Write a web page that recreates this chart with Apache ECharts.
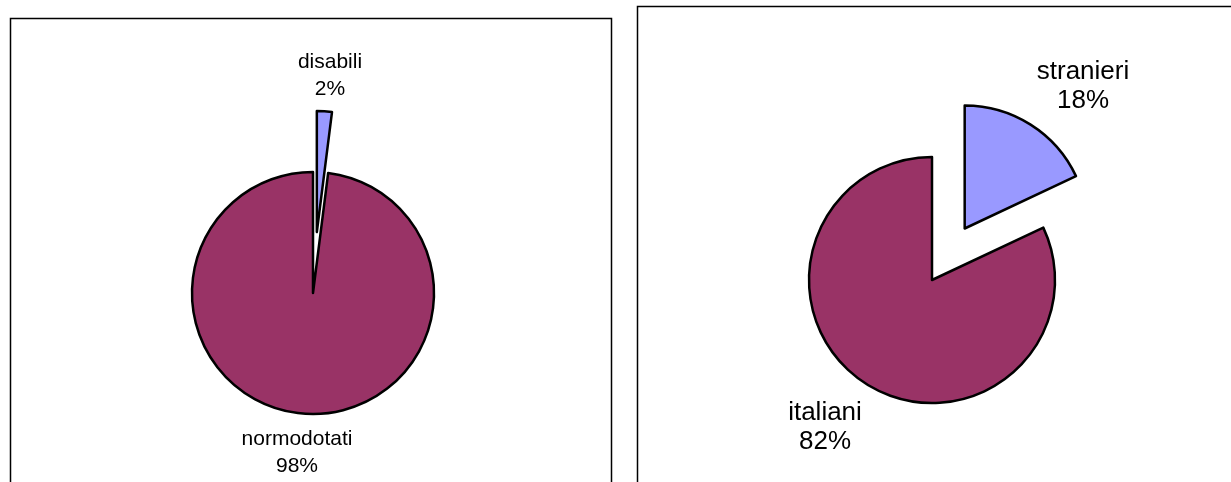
<!DOCTYPE html>
<html>
<head>
<meta charset="utf-8">
<script src="https://cdn.jsdelivr.net/npm/echarts@6/dist/echarts.min.js"></script>
<style>
html,body{margin:0;padding:0;background:#fff;}
#c{width:1231px;height:482px;}
</style>
</head>
<body>
<div id="c"></div>
<script>
// Data
const leftCategories = ['disabili', 'normodotati'];
const leftValues = [2, 98];
const rightCategories = ['stranieri', 'italiani'];
const rightValues = [18, 82];
const sliceColors = ['#9999FF', '#993366'];

const chart = echarts.init(document.getElementById('c'), null, {renderer: 'canvas'});

function buildData(cats, vals) {
  return cats.map((c, i) => ({
    name: c,
    value: vals[i],
    selected: i === 0,
    itemStyle: {color: sliceColors[i]}
  }));
}

// label centre positions (layout only)
const leftLabelPos = [[330, 76], [297, 453]];
const rightLabelPos = [[1083, 86], [825, 427]];

function labelTexts(cats, vals, pos, fontSize, lineHeight) {
  const sum = vals.reduce((a, b) => a + b, 0);
  return cats.map((c, i) => ({
    type: 'text',
    x: pos[i][0],
    y: pos[i][1],
    z: 10,
    style: {
      text: c + '\n' + Math.round(vals[i] / sum * 100) + '%',
      fontFamily: 'Liberation Sans, Arial, sans-serif',
      fontSize: fontSize,
      lineHeight: lineHeight,
      fill: '#000',
      align: 'center',
      verticalAlign: 'middle'
    }
  }));
}

function pieSeries(cats, vals, center, radius) {
  return {
    type: 'pie',
    center: center,
    radius: radius,
    startAngle: 90,
    clockwise: true,
    selectedMode: 'multiple',
    selectedOffset: 61,
    animation: false,
    silent: true,
    emphasis: {disabled: true},
    select: {itemStyle: {borderColor: '#000', borderWidth: 2.5}},
    itemStyle: {borderColor: '#000', borderWidth: 2.5},
    label: {show: false},
    labelLine: {show: false},
    data: buildData(cats, vals)
  };
}

chart.setOption({
  backgroundColor: '#fff',
  animation: false,
  graphic: [
    {type: 'rect', shape: {x: 10.5, y: 18.5, width: 601, height: 500}, style: {fill: 'none', stroke: '#000', lineWidth: 1.5}, z: -1},
    {type: 'rect', shape: {x: 637.5, y: 6.5, width: 620, height: 520}, style: {fill: 'none', stroke: '#000', lineWidth: 1.5}, z: -1}
  ].concat(
    labelTexts(leftCategories, leftValues, leftLabelPos, 21, 27),
    labelTexts(rightCategories, rightValues, rightLabelPos, 26, 29)
  ),
  series: [
    pieSeries(leftCategories, leftValues, [313, 293], 121),
    pieSeries(rightCategories, rightValues, [932, 280], 123)
  ]
});
</script>
</body>
</html>
